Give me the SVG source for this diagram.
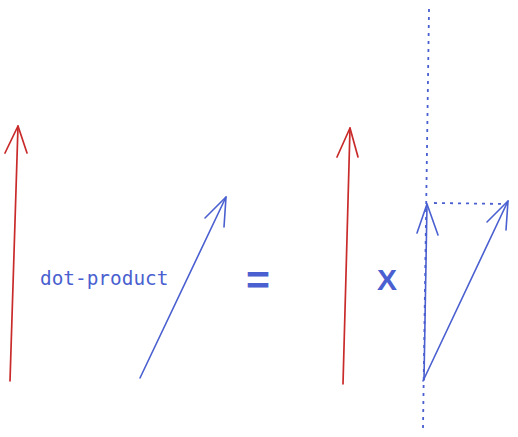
<svg xmlns="http://www.w3.org/2000/svg" width="518" height="437" viewBox="0 0 518 437">
<style>
.red{fill:none;stroke:#c92a2a;stroke-width:1.7;stroke-linecap:round;stroke-linejoin:round}
.blue{fill:none;stroke:#4a5fd0;stroke-width:1.6;stroke-linecap:round;stroke-linejoin:round}
.dot{fill:none;stroke:#4a5fd0;stroke-width:1.8;stroke-dasharray:3 5}
.txt{fill:#4a5fd0;font-family:"DejaVu Sans Mono","Liberation Mono",monospace;font-size:19.4px}
.sym{fill:#4a5fd0;font-family:"Liberation Sans",Arial,sans-serif;font-weight:bold}
</style>
<rect width="518" height="437" fill="#ffffff"/>
<g id="connectors">
<g id="red-vector-1"><path class="red" d="M10 381 L18 126"/><path class="red" d="M5 153 L18 126 L27 153"/></g>
<g id="blue-vector-1"><path class="blue" d="M140 378 L226 197"/><path class="blue" d="M205 218 L226 197 L224 227"/></g>
<g id="red-vector-2"><path class="red" d="M343 384 L350 128"/><path class="red" d="M337 157 L350 128 L358 157"/></g>
<path class="dot" d="M429 9 L423 428"/>
<path class="dot" d="M434 203 L508 204"/>
<g id="blue-vertical"><path class="blue" d="M424 380 L427 204"/><path class="blue" d="M417 233 L427 204 L438 235"/></g>
<g id="blue-diagonal"><path class="blue" d="M423 381 L508 201"/><path class="blue" d="M487 222 L508 201 L506 230"/></g>
</g>
<g id="label-dot-product"><text class="txt" x="40" y="285">dot-product</text></g>
<g id="equals"><text class="sym" x="246" y="294" font-size="41">=</text></g>
<g id="times"><text class="sym" x="377" y="290" font-size="30">X</text></g>
</svg>
